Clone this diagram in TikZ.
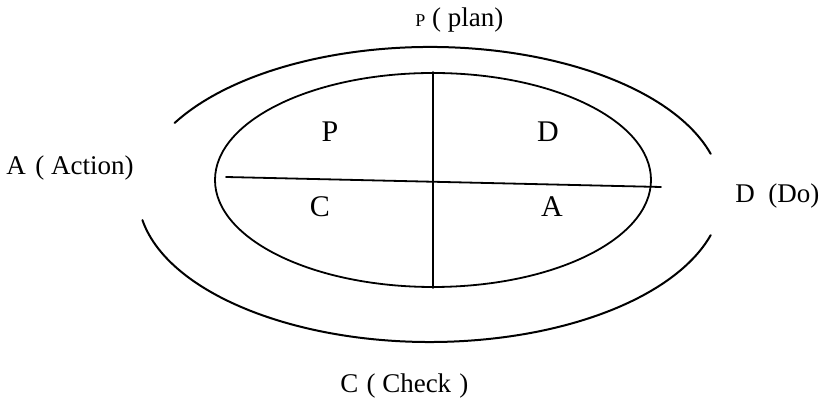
\documentclass[tikz,border=0pt]{standalone}
\usepackage{fontspec}
\setmainfont{Liberation Serif}
\usetikzlibrary{shapes.geometric,positioning}
\tikzset{
 pdca/.style={line cap=round,line join=round},
 ring/.style={draw=black,line width=1pt},
 split/.style={draw=black,line width=.9pt},
 core/.style={ellipse,draw=black,line width=.9pt,inner sep=0pt,minimum width=218pt,minimum height=107pt},
 phase/.style={font=\fontsize{15}{17}\selectfont,anchor=base,inner sep=0pt},
 stage/.style={font=\fontsize{13.5}{15}\selectfont,anchor=base west,inner sep=0pt}
}
\begin{document}
\begin{tikzpicture}[pdca,x=.5pt,y=.5pt]
 \useasboundingbox (0,0) rectangle (824,400);
 \coordinate (oc) at (430,205.5);
 % outer ring, open on both sides for the labels
 \draw[ring] ([shift={(16:292 and 147.5)}]oc) arc[start angle=16,end angle=151,x radius=292,y radius=147.5];
 \draw[ring] ([shift={(190:292 and 147.5)}]oc) arc[start angle=190,end angle=344,x radius=292,y radius=147.5];
 % inner ellipse cut into four
 \node[core] (inner) at (433,220) {};
 \draw[split] (inner.north) -- (inner.south);
 \coordinate (hl) at (226,223);
 \coordinate (hr) at (661,213);
 \draw[split] (hl) -- (hr);
 \node[phase] (qp) at (330,258) {P};
 \node[phase] (qd) at (548,258) {D};
 \node[phase] (qc) at (320,183) {C};
 \node[phase] (qa) at (552,183) {A};
 % stage names round the ring
 \node[stage] (plan) at (415,373) {{\fontsize{9}{10}\selectfont P} ( plan)};
 \node[stage] (act) at (6,225) {A\hspace{.35em}( Action)};
 \node[stage] (do) at (735,197) {D\ \ (Do)};
 \node[stage] (check) at (340,7) {C\hspace{.3em}( Check\hspace{.3em})};
\end{tikzpicture}
\end{document}
